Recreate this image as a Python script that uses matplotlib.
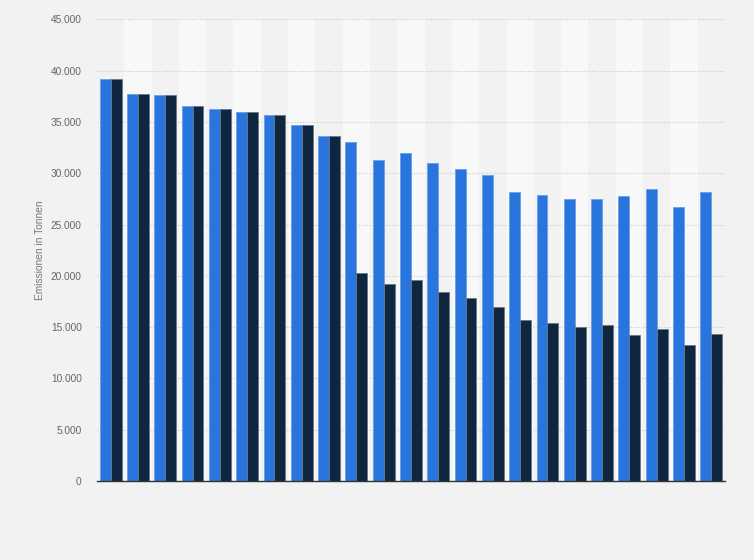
import matplotlib.pyplot as plt
import numpy as np

# values in tonnes
blue_values = [39200, 37700, 37600, 36600, 36300, 36000, 35700, 34700, 33600, 33100,
               31300, 31950, 31000, 30400, 29800, 28200, 27850, 27500, 27500, 27800,
               28500, 26700, 28200]
dark_values = [39200, 37700, 37600, 36600, 36300, 36000, 35700, 34700, 33600, 20300,
               19200, 19600, 18400, 17800, 17000, 15700, 15400, 15000, 15200, 14200,
               14800, 13300, 14300]
y_ticks = [0, 5000, 10000, 15000, 20000, 25000, 30000, 35000, 40000, 45000]

plt.rcParams['font.family'] = ['Liberation Sans', 'DejaVu Sans']

fig = plt.figure(figsize=(7.54, 5.6), dpi=100, facecolor="#f2f2f2")
ax = fig.add_axes([0.1286, 0.1411, 0.8329, 0.8241])
ax.set_facecolor("#f2f2f2")

n = len(blue_values)
x = np.arange(n)

# alternating column stripes
for i in range(n):
    if i % 2 == 1:
        ax.axvspan(i - 0.5, i + 0.5, color="#f8f8f8", zorder=0, lw=0)

ax.bar(x - 0.2, blue_values, width=0.4, color="#2876dd", edgecolor="#6a9fe6",
       linewidth=0.6, zorder=3)
ax.bar(x + 0.2, dark_values, width=0.4, color="#0f2640", edgecolor="#6b7888",
       linewidth=0.6, zorder=3)

ax.set_xlim(-0.5, n - 0.5)
ax.set_ylim(0, 45000)
ax.set_yticks(y_ticks)
ax.set_yticklabels([f"{v:,}".replace(",", ".") for v in y_ticks], color="#666666", fontsize=7.3)
ax.set_xticks([])
ax.tick_params(axis="y", length=0, pad=11)
ax.grid(axis="y", color="#c8c8c8", linestyle=(0, (1, 1.5)), linewidth=0.8, zorder=1)

for side in ["top", "right", "left"]:
    ax.spines[side].set_visible(False)
ax.spines["bottom"].set_color("#333333")
ax.spines["bottom"].set_linewidth(1)
ax.spines["bottom"].set_zorder(4)

ax.set_ylabel("Emissionen in Tonnen", color="#777777", fontsize=7.3)
ax.yaxis.set_label_coords(-0.082, 0.5)

plt.savefig("out.png", dpi=100, facecolor="#f2f2f2")
